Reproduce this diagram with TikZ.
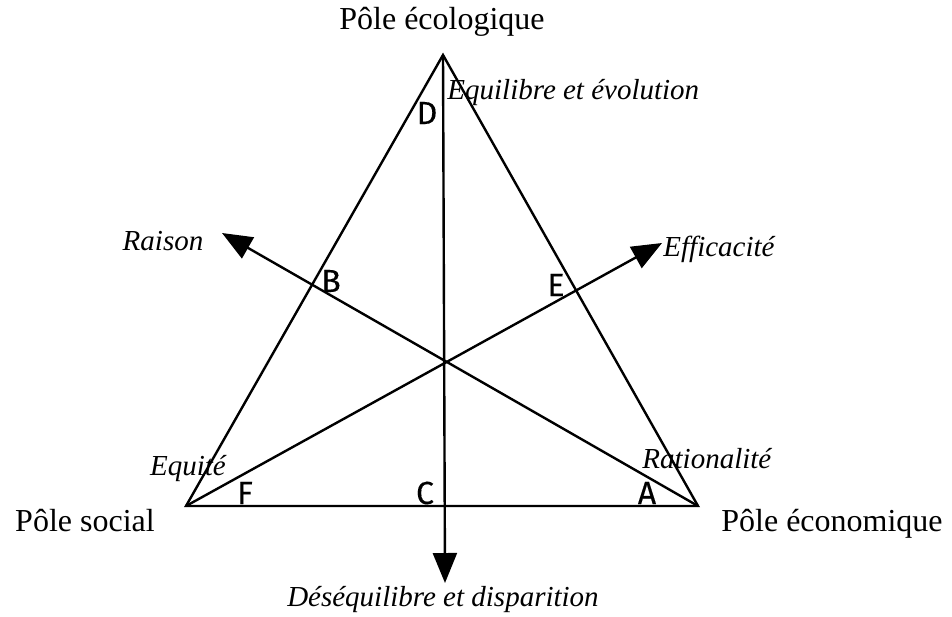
\documentclass[tikz,border=0pt]{standalone}
\usepackage{fontspec}
\setmainfont{Liberation Serif}
\newfontfamily\lettfont[FakeBold=0.3]{Fira Sans}
\usetikzlibrary{arrows.meta}
\tikzset{
  pole/.style={font=\fontsize{16}{18}\selectfont, inner sep=0pt},
  dirlabel/.style={font=\fontsize{14.5}{17}\selectfont\itshape, inner sep=0pt},
  letter/.style={font=\fontsize{16}{18}\lettfont, inner sep=0pt},
  edge/.style={line width=1.2pt},
  axis/.style={line width=1.2pt, -{Triangle[length=15pt,width=12pt]}}
}
\begin{document}
\begin{tikzpicture}[x=0.5pt,y=-0.5pt]
\useasboundingbox (0,0) rectangle (952,616);
% vertices
\coordinate (T) at (443,55);
\coordinate (L) at (186,506);
\coordinate (R) at (698,506);
% arrow tips
\coordinate (tipS) at (445,583);
\coordinate (tipRaison) at (222,233);
\coordinate (tipEff) at (662,243);
% triangle
\draw[edge, line join=miter] (T) -- (L) -- (R) -- cycle;
% axes
\draw[axis] (T) -- (tipS);
\draw[axis] (R) -- (tipRaison);
\draw[axis] (L) -- (tipEff);
% pole labels
\node[pole] (pEco) at (442,22) {Pôle écologique};
\node[pole] (pSoc) at (85,521) {Pôle social};
\node[pole] (pEcon) at (832,524) {Pôle économique};
% direction labels
\node[dirlabel, anchor=west] (lEq) at (447,93) {Equilibre et évolution};
\node[dirlabel] (lDes) at (443,599) {Déséquilibre et disparition};
\node[dirlabel] (lRaison) at (163,241) {Raison};
\node[dirlabel, anchor=west] (lEff) at (663,249) {Efficacité};
\node[dirlabel] (lEqu) at (188,469) {Equité};
\node[dirlabel, anchor=west] (lRat) at (642,459) {Rationalité};
% letters
\node[letter] (D) at (427,113) {D};
\node[letter] (B) at (331,281) {B};
\node[letter] (E) at (556,285) {E};
\node[letter] (C) at (425,493) {C};
\node[letter] (F) at (245,493) {F};
\node[letter] (A) at (647,493) {A};
\end{tikzpicture}
\end{document}
